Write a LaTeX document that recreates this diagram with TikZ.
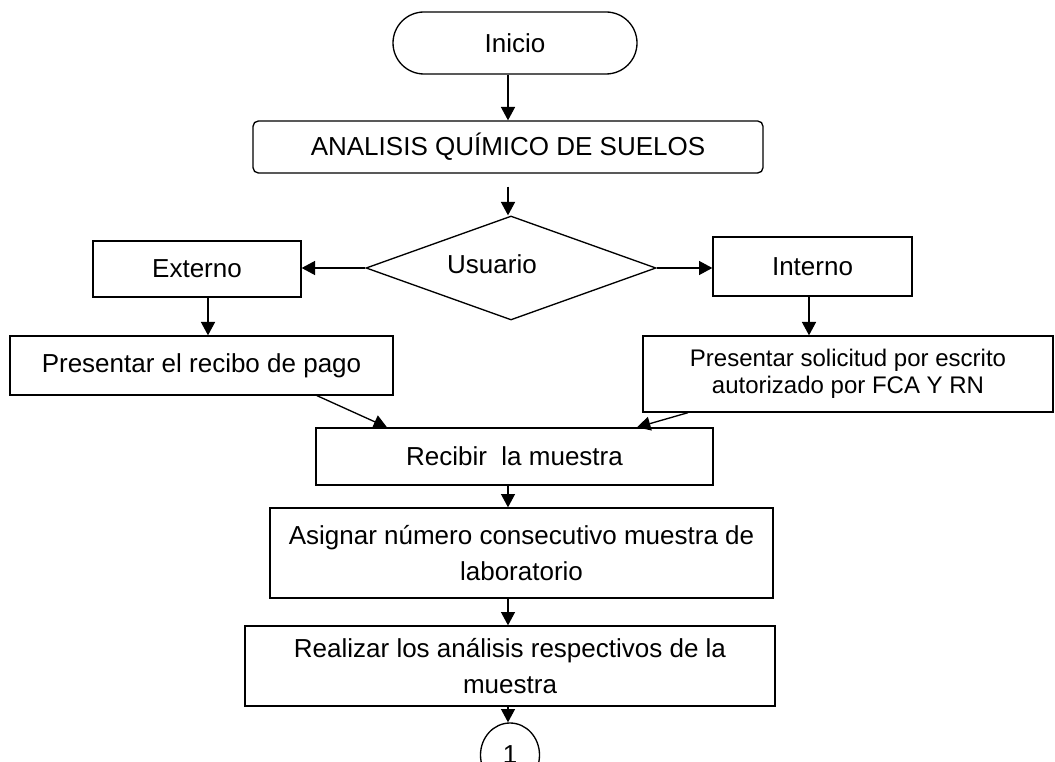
\documentclass[tikz,border=0pt]{standalone}
\usepackage{fontspec}
\setmainfont{Liberation Sans}
\usetikzlibrary{shapes.geometric,shapes.misc,arrows.meta,calc}
\begin{document}
\begin{tikzpicture}[x=0.75pt,y=-0.75pt,
  every node/.style={font=\fontsize{19.5}{26}\selectfont, inner sep=0pt, line width=1pt},
  box/.style={draw, rectangle, align=center},
  twoline/.style={font=\fontsize{19.5}{26.5}\selectfont},
  arr/.style={line width=1pt, -{Triangle[length=10pt,width=10.5pt]}}]
\path[use as bounding box, clip] (0,0) rectangle (1055,762);
\fill[white] (0,0) rectangle (1055,762);
\coordinate (axis) at (508,0);
\coordinate (xe) at (208,0);
\coordinate (xi) at (809,0);

\node[draw, rounded rectangle, minimum width={244*0.75pt}, minimum height={62*0.75pt}] (inicio) at (515,43) {Inicio};
\node[box, rounded corners=4pt, minimum width={510*0.75pt}, minimum height={52*0.75pt}] (analisis) at (508,147) {ANALISIS QUÍMICO DE SUELOS};
\node[draw, diamond, minimum width={290*0.75pt}, minimum height={104*0.75pt}] (usuario) at (511,268) {};
\node (usuariotxt) at (492,264) {Usuario};
\node[box, minimum width={208*0.75pt}, minimum height={56*0.75pt}] (externo) at (197,269) {Externo};
\node[box, minimum width={199*0.75pt}, minimum height={59*0.75pt}] (interno) at (812.5,266.5) {Interno};
\node[box, minimum width={383*0.75pt}, minimum height={59*0.75pt}] (recibo) at (201.5,365.5) {Presentar el recibo de pago};
\node[box, minimum width={410*0.75pt}, minimum height={76*0.75pt}, font=\fontsize{18}{20.25}\selectfont] (solicitud) at (848,374) {Presentar solicitud por escrito\\autorizado por FCA Y RN};
\node[box, minimum width={397*0.75pt}, minimum height={57*0.75pt}] (recibir) at (514.5,456.5) {Recibir\ \ la muestra};
\node[box, twoline, minimum width={503*0.75pt}, minimum height={90*0.75pt}] (asignar) at (521.5,553) {Asignar número consecutivo muestra de\\laboratorio};
\node[box, twoline, minimum width={530*0.75pt}, minimum height={80*0.75pt}] (realizar) at (510,666) {Realizar los análisis respectivos de la\\muestra};
\node[draw, ellipse, minimum width={59*0.75pt}, minimum height={64*0.75pt}] (conector) at (510,755) {1};

\draw[arr] (inicio.south -| axis) -- (analisis.north -| axis);
\draw[arr] ($(analisis.south -| axis)+(0,13)$) -- (usuario.north -| axis);
\draw[arr] (usuario.west) -- (usuario.west -| externo.east);
\draw[arr] (usuario.east) -- (usuario.east -| interno.west);
\draw[arr] (externo.south -| xe) -- (recibo.north -| xe);
\draw[arr] (interno.south -| xi) -- (solicitud.north -| xi);
\draw[arr] ($(recibo.south)+(115.5,0)$) -- ($(recibir.north)+(-127.5,0)$);
\draw[arr] ($(solicitud.south)+(-160,0)$) -- ($(recibir.north)+(122.5,0)$);
\draw[arr] (recibir.south -| axis) -- (asignar.north -| axis);
\draw[arr] (asignar.south -| axis) -- (realizar.north -| axis);
\draw[arr] (realizar.south -| axis) -- (conector.north -| axis);
\end{tikzpicture}
\end{document}
